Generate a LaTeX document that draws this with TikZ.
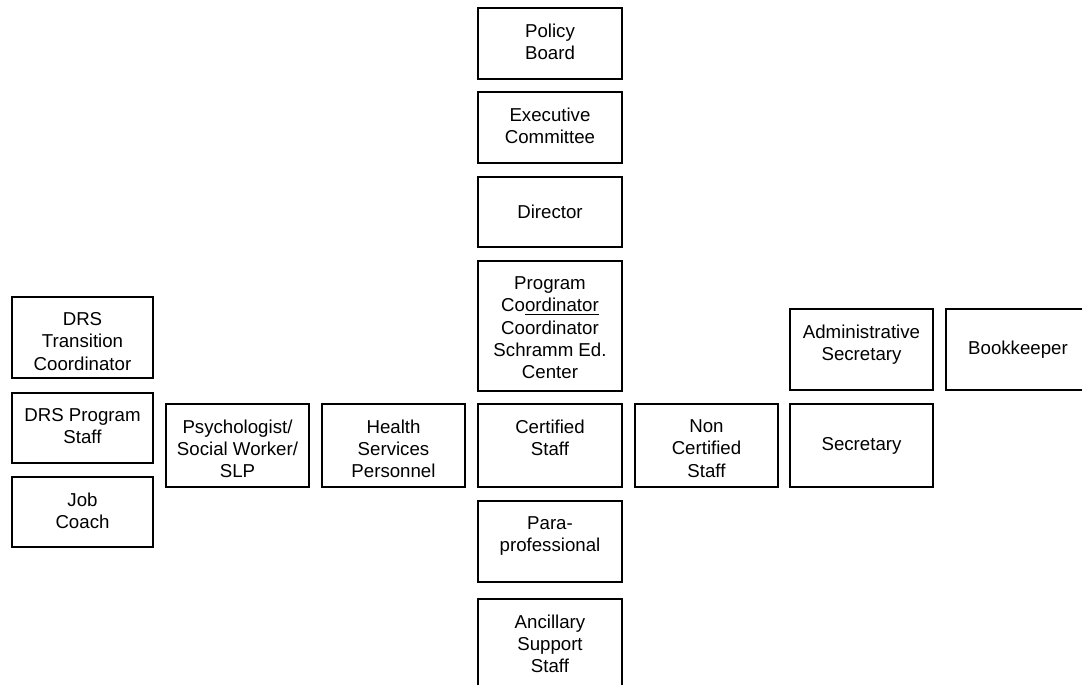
\documentclass[tikz,border=0pt]{standalone}
\usepackage{fontspec}
\setmainfont{Liberation Sans}
\newcommand\orgbox[5]{%
  \pgfmathsetmacro\bw{(#4-#2)*0.75}%
  \pgfmathsetmacro\bh{(#5-#3)*0.75}%
  \node[box, minimum width=\bw pt, minimum height=\bh pt, anchor=north west] (#1) at (#2,#3) {};}
\begin{document}
\begin{tikzpicture}[x=0.75pt,y=-0.75pt,
  box/.style={draw=black, line width=1.4pt, inner sep=0pt, outer sep=0pt, fill=none},
  txt/.style={align=center, inner sep=0pt, font=\fontsize{14pt}{16.75pt}\selectfont},
  toptxt/.style={txt, anchor=north, yshift=-11.5pt}]
\useasboundingbox (0,0) rectangle (1082,685);
\clip (0,0) rectangle (1082,685);
% centre column
\orgbox{policy}{478}{8}{622}{79}
\orgbox{exec}{478}{92}{622}{163}
\orgbox{director}{478}{177}{622}{247}
\orgbox{progcoord}{478}{261}{622}{391}
\orgbox{certified}{478}{404}{622}{487}
\orgbox{para}{478}{501}{622}{582}
\orgbox{ancillary}{478}{599}{622}{692}
% left
\orgbox{health}{322}{404}{465}{487}
\orgbox{psych}{166}{404}{309}{487}
\orgbox{drstrans}{12}{297}{153}{378}
\orgbox{drsprog}{12}{393}{153}{463}
\orgbox{jobcoach}{12}{477}{153}{547}
% right
\orgbox{noncert}{635}{404}{778}{487}
\orgbox{adminsec}{790}{309}{933}{390}
\orgbox{secretary}{790}{404}{933}{487}
\orgbox{bookkeeper}{946}{309}{1090}{390}
% texts
\node[toptxt] (policyt) at (policy.north) {Policy\\Board};
\node[toptxt] (exect) at (exec.north) {Executive\\Committee};
\node[txt] (directort) at (director) {Director};
\node[toptxt] (progcoordt) at (progcoord.north) {Program\\Co\underline{ordinator}\\Coordinator\\Schramm Ed.\\Center};
\node[toptxt] (certifiedt) at (certified.north) {Certified\\Staff};
\node[toptxt] (parat) at (para.north) {Para-\\professional};
\node[toptxt] (ancillaryt) at (ancillary.north) {Ancillary\\Support\\Staff};
\node[toptxt] (healtht) at (health.north) {Health\\Services\\Personnel};
\node[toptxt] (psycht) at (psych.north) {Psychologist/\\Social Worker/\\SLP};
\node[toptxt] (drstranst) at (drstrans.north) {DRS\\Transition\\Coordinator};
\node[toptxt] (drsprogt) at (drsprog.north) {DRS Program\\Staff};
\node[toptxt] (jobcoacht) at (jobcoach.north) {Job\\Coach};
\node[toptxt] (noncertt) at (noncert.north) {Non\\Certified\\Staff};
\node[toptxt] (adminsect) at (adminsec.north) {Administrative\\Secretary};
\node[txt] (secretaryt) at (secretary) {Secretary};
\node[txt] (bookkeepert) at (bookkeeper) {Bookkeeper};
\end{tikzpicture}
\end{document}
